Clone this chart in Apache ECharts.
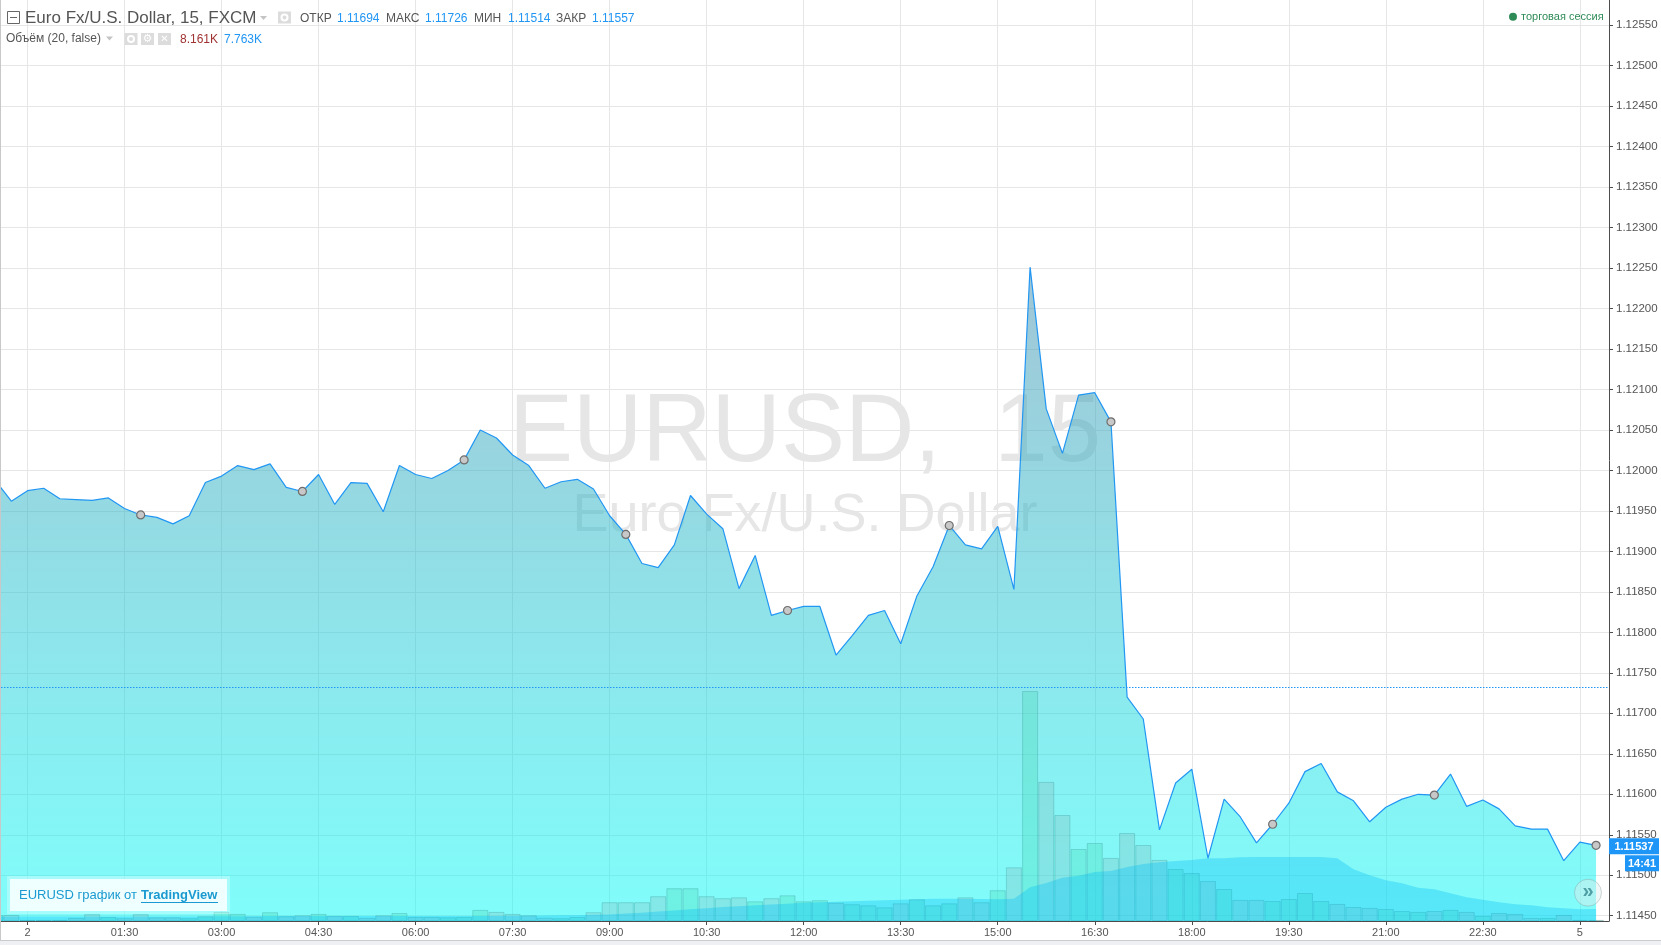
<!DOCTYPE html>
<html><head><meta charset="utf-8">
<style>html,body{margin:0;padding:0;background:#fff}#c{width:1661px;height:945px}</style>
<script src="https://cdn.jsdelivr.net/npm/echarts@6/dist/echarts.min.js"></script>
</head><body><div id="c"></div>
<script>
const firstSlot = -2;
const prices = [1.11988,1.11962,1.11975,1.11978,1.11965,1.11964,1.11963,1.11966,1.11953,1.11945,1.11942,1.11934,1.11944,1.11985,1.11993,1.12006,1.12001,1.12008,1.11979,1.11974,1.11995,1.11958,1.11985,1.11984,1.11949,1.12006,1.11995,1.11990,1.12000,1.12013,1.12050,1.12040,1.12019,1.12006,1.11978,1.11986,1.11989,1.11977,1.11944,1.11921,1.11885,1.11880,1.11908,1.11969,1.11946,1.11928,1.11854,1.11895,1.11821,1.11827,1.11832,1.11832,1.11772,1.11796,1.11821,1.11827,1.11786,1.11845,1.11881,1.11932,1.11908,1.11903,1.11931,1.11853,1.12251,1.12076,1.12021,1.12093,1.12096,1.12060,1.11720,1.11693,1.11556,1.11614,1.11631,1.11521,1.11594,1.11572,1.11540,1.11563,1.11589,1.11628,1.11638,1.11603,1.11592,1.11566,1.11584,1.11594,1.11600,1.11599,1.11625,1.11585,1.11593,1.11582,1.11561,1.11557,1.11557,1.11518,1.11541,1.11537];
const volumes = [3.9,3.9,0.7,0.7,0.7,2.0,4.4,2.6,1.8,4.4,2.4,2.4,1.8,3.1,5.9,4.6,2.8,5.7,3.1,3.7,4.6,3.3,3.3,2.0,3.7,5.2,2.6,2.6,2.4,2.6,7.2,5.9,4.6,3.7,2.1,1.8,2.6,5.7,12.2,12.2,12.2,16.1,21.3,21.3,16.1,14.8,15.4,12.8,14.8,16.7,12.8,13.5,11.9,10.9,10.2,8.9,11.5,14.1,10.2,11.5,15.4,12.2,20.0,34.9,149.5,90.4,68.9,46.8,50.7,41.0,57.2,49.4,39.7,33.8,31.2,26.0,20.8,13.7,13.7,13.0,14.3,18.2,13.0,11.1,9.1,8.5,7.8,6.5,5.9,6.5,7.2,5.9,3.3,5.2,4.6,2.0,2.0,3.9,0.7,0.7];
const volumeMA = [3.0,3.0,3.0,3.0,2.9,2.9,2.9,2.9,2.9,2.9,3.0,3.0,3.0,3.0,3.1,3.1,3.1,3.2,3.2,3.2,3.3,3.3,3.3,3.3,3.3,3.3,3.3,3.3,3.2,3.2,3.2,3.3,3.4,3.4,3.5,3.7,3.8,4.0,4.3,4.8,5.4,6.1,6.9,7.6,8.3,9.1,9.6,10.2,10.7,11.2,11.9,12.2,12.5,12.9,13.2,13.5,13.8,14.1,14.5,14.5,14.5,14.3,14.1,14.5,21.9,24.7,28.1,29.4,31.9,32.5,35.1,37.1,38.2,39.0,39.7,40.8,40.8,41.4,41.6,41.6,41.6,41.6,41.6,40.8,33.6,29.7,26.5,24.5,21.6,20.6,18.0,15.4,13.8,12.2,10.9,10.2,8.9,8.3,7.6,7.763];
const markerSlots = [7,17,27,37,47,57,67,77,87,97];
const tickSlots = [0,6,12,18,24,30,36,42,48,54,60,66,72,78,84,90,96];
const timeLabels = ['2','01:30','03:00','04:30','06:00','07:30','09:00','10:30','12:00','13:30','15:00','16:30','18:00','19:30','21:00','22:30','5'];
const priceTicks = [1.1145,1.115,1.1155,1.116,1.1165,1.117,1.1175,1.118,1.1185,1.119,1.1195,1.12,1.1205,1.121,1.1215,1.122,1.1225,1.123,1.1235,1.124,1.1245,1.125,1.1255];
const prevClose = 1.11732;
const lastPrice = '1.11537', countdown = '14:41';

const F = 'Liberation Sans, Arial, sans-serif';
const BLUE = '#2196f3', GREY = '#555';
const slot = i => i + firstSlot;
const pricePts = prices.map((v,i)=>[slot(i),v]);
const maPts = volumeMA.map((v,i)=>[slot(i),v]);
const volPts = volumes.map((v,i)=>{
  const up = i===0 || prices[i]>=prices[i-1];
  return {value:[slot(i),v],itemStyle:{color:up?'rgba(70,215,175,.3)':'rgba(140,170,175,.25)',borderColor:'rgba(40,130,130,.25)',borderWidth:1}};
});
const markerPts = markerSlots.map(s=>[s,prices[s-firstSlot]]);

const chart = echarts.init(document.getElementById('c'),null,{renderer:'canvas',width:1661,height:945});
const txt = (x,y,t,size,fill,extra)=>({type:'text',x,y,silent:true,z:25,style:Object.assign({text:t,font:size+'px '+F,fill,textVerticalAlign:'middle'},extra||{})});
const rect = (x,y,w,h,fill,z,extra)=>({type:'rect',x,y,silent:true,z:z===undefined?20:z,shape:{x:0,y:0,width:w,height:h},style:Object.assign({fill},extra||{})});
const caret = (x,y,w)=>({type:'polygon',silent:true,z:20,shape:{points:[[x,y-2],[x+w,y-2],[x+w/2,y+2]]},style:{fill:'#c4c4c4'}});
const eye = (x,y)=>[rect(x,y,13,12,'#dcdcdc'),{type:'circle',silent:true,z:21,shape:{cx:x+6.5,cy:y+6,r:3},style:{fill:'none',stroke:'#fff',lineWidth:2}}];

chart.setOption({
  animation:false,
  backgroundColor:'#fff',
  grid:{left:1,top:0,width:1608,height:921,containLabel:false},
  xAxis:{type:'value',min:-1.639,max:97.8,
    axisLine:{onZero:false,lineStyle:{color:'#4c4c4c',width:1}},
    axisTick:{length:4,lineStyle:{color:'#4c4c4c'},customValues:tickSlots},
    axisLabel:{customValues:tickSlots,color:GREY,fontFamily:F,fontSize:11,margin:6,formatter:v=>timeLabels[tickSlots.indexOf(v)]},
    splitLine:{show:true,lineStyle:{color:'#e6e6e6',width:1}}},
  yAxis:[
    {type:'value',position:'right',min:1.114435,max:1.12581,scale:true,
     axisLine:{show:true,onZero:false,lineStyle:{color:'#4c4c4c',width:1}},
     axisTick:{show:true,length:4,lineStyle:{color:'#4c4c4c'},customValues:priceTicks},
     axisLabel:{customValues:priceTicks,color:GREY,fontFamily:F,fontSize:11.5,margin:7,padding:[2,0,0,0],formatter:v=>v.toFixed(5)},
     splitLine:{show:true,lineStyle:{color:'#e6e6e6',width:1}}},
    {type:'value',min:0,max:598.65,show:false,splitLine:{show:false}}
  ],
  series:[
    {type:'line',name:'EURUSD',data:pricePts,z:3,symbol:'none',clip:true,
     lineStyle:{color:BLUE,width:1.2},
     areaStyle:{origin:'start',opacity:1,color:{type:'linear',x:0,y:0,x2:0,y2:1,colorStops:[{offset:0,color:'rgba(67,139,171,.5)'},{offset:1,color:'rgba(1,252,247,.5)'}]}},
     markLine:{silent:true,symbol:'none',precision:5,label:{show:false},lineStyle:{color:BLUE,type:[1.5,1.5],width:1.2},data:[{yAxis:prevClose}]}},
    {type:'bar',name:'Объём',data:volPts,yAxisIndex:1,barWidth:16,z:4,clip:true},
    {type:'line',name:'MA',data:maPts,yAxisIndex:1,z:5,symbol:'none',lineStyle:{width:0},areaStyle:{origin:'start',opacity:1,color:'rgba(0,188,245,.32)'}},
    {type:'scatter',data:markerPts,z:6,symbol:'circle',symbolSize:8,itemStyle:{color:'#c8c8c8',borderColor:'#6e6e6e',borderWidth:1.2,opacity:1}}
  ]
});
// last-price tag follows the last data value through the axis
const lastY = chart.convertToPixel({yAxisIndex:0},prices[prices.length-1]);
chart.setOption({graphic:[
    {type:'text',silent:true,z:1,x:805,y:435,style:{text:'EURUSD,\u00a0\u00a015',font:'96px '+F,fill:'#e6e6e6',textAlign:'center',textVerticalAlign:'middle'}},
    {type:'text',silent:true,z:1,x:805,y:516,style:{text:'Euro Fx/U.S. Dollar',font:'54px '+F,fill:'#e6e6e6',textAlign:'center',textVerticalAlign:'middle'}},
    rect(0,0,1,940,'#c8c8c8',30),
    rect(0,940,1661,5,'#eef0f4',30),
    rect(0,940,1661,1,'#c9cbcf',31),
    {type:'rect',silent:true,z:20,shape:{x:7.5,y:11.5,width:12,height:12},style:{fill:'#fff',stroke:'#666',lineWidth:1}},
    rect(10,17,7,1,'#666',21),
    txt(25,18.5,'Euro Fx/U.S. Dollar, 15, FXCM',17,'#555'),
    caret(260,18,7),
    ...eye(278,11.5),
    txt(300,18.5,'ОТКР',12,GREY),txt(337,18.5,'1.11694',12,BLUE),
    txt(386,18.5,'МАКС',12,GREY),txt(425,18.5,'1.11726',12,BLUE),
    txt(474,18.5,'МИН',12,GREY),txt(508,18.5,'1.11514',12,BLUE),
    txt(556,18.5,'ЗАКР',12,GREY),txt(592,18.5,'1.11557',12,BLUE),
    txt(6,39,'Объём (20, false)',12,GREY),
    caret(106,38.5,7),
    ...eye(124.5,33),
    rect(141,33,13,12,'#dcdcdc'),txt(147.5,39,'⚙',11,'#fff',{textAlign:'center',font:'11px DejaVu Sans'}),
    rect(158,33,13,12,'#dcdcdc'),txt(164.5,39,'✕',10,'#fff',{textAlign:'center',font:'10px DejaVu Sans'}),
    txt(180,39.5,'8.161K',12,'#a03232'),txt(224,39.5,'7.763K',12,BLUE),
    {type:'circle',silent:true,z:20,shape:{cx:1513,cy:16.7,r:4},style:{fill:'#2e8b57'}},
    txt(1521,17,'торговая сессия',11,'#2e8b57'),
    rect(7,876,223,38,'rgba(255,255,255,.3)',20),
    rect(10,879,217,32,'rgba(255,255,255,.82)',21),
    txt(19,895.5,'EURUSD график от',13,'#1a9ad0'),
    txt(141,895.5,'TradingView',13,'#1a9ad0',{font:'bold 13px '+F}),
    rect(141,902,77,1,'#1a9ad0',26),
    {type:'circle',silent:true,z:20,shape:{cx:1588,cy:892.7,r:13.5},style:{fill:'rgba(225,235,235,.45)',stroke:'rgba(120,140,140,.35)',lineWidth:1}},
    {type:'text',silent:true,z:21,x:1588,y:891,style:{text:'»',font:'bold 20px '+F,fill:'#4f9ea3',textAlign:'center',textVerticalAlign:'middle'}},
    {type:'rect',silent:true,z:40,shape:{x:1609,y:lastY-7,width:50,height:16},style:{fill:'#1e96f8'}},
    {type:'text',silent:true,z:41,x:1634,y:lastY+1.5,style:{text:lastPrice,font:'bold 11px '+F,fill:'#fff',textAlign:'center',textVerticalAlign:'middle'}},
    {type:'rect',silent:true,z:40,shape:{x:1625,y:lastY+10,width:34,height:16},style:{fill:'#1e96f8'}},
    {type:'text',silent:true,z:41,x:1642,y:lastY+18.5,style:{text:countdown,font:'bold 11px '+F,fill:'#fff',textAlign:'center',textVerticalAlign:'middle'}}
]});
</script></body></html>
